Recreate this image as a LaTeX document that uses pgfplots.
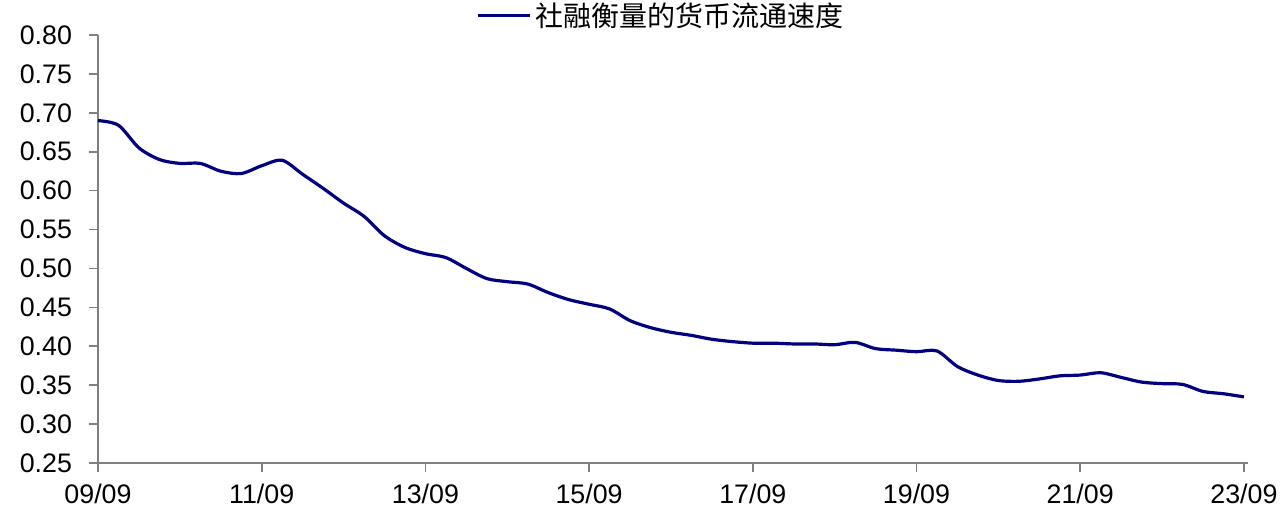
\documentclass[border=0pt]{standalone}
\usepackage{pgfplots}
\pgfplotsset{compat=1.18}
\usepackage{fontspec}
\setmainfont{Liberation Sans}
\newfontfamily\cjk{Noto Sans CJK SC}
\definecolor{navyline}{HTML}{000080}
\definecolor{axgray}{HTML}{808080}

% quarterly series, t = years since 2009-09
\pgfplotstableread{
t v
0.00 0.690
0.25 0.684
0.50 0.655
0.75 0.640
1.00 0.635
1.25 0.635
1.50 0.625
1.75 0.622
2.00 0.632
2.25 0.639
2.50 0.621
2.75 0.603
3.00 0.584
3.25 0.567
3.50 0.542
3.75 0.527
4.00 0.519
4.25 0.514
4.50 0.500
4.75 0.487
5.00 0.483
5.25 0.480
5.50 0.469
5.75 0.460
6.00 0.454
6.25 0.448
6.50 0.433
6.75 0.424
7.00 0.418
7.25 0.414
7.50 0.409
7.75 0.406
8.00 0.404
8.25 0.404
8.50 0.403
8.75 0.403
9.00 0.402
9.25 0.405
9.50 0.397
9.75 0.395
10.00 0.393
10.25 0.394
10.50 0.374
10.75 0.363
11.00 0.356
11.25 0.355
11.50 0.358
11.75 0.362
12.00 0.363
12.25 0.366
12.50 0.360
12.75 0.354
13.00 0.352
13.25 0.351
13.50 0.342
13.75 0.339
14.00 0.335
}\velocity

\begin{document}
\begin{tikzpicture}
\useasboundingbox (-49pt,-24pt) rectangle (593pt,231.5pt);
\begin{axis}[
  scale only axis,
  width=575pt, height=214pt,
  xmin=0, xmax=14.05,
  ymin=0.25, ymax=0.80,
  axis x line*=bottom, axis y line*=left,
  axis line style={axgray, line width=0.8pt, -},
  tick align=outside,
  major tick length=4.5pt,
  tick style={axgray, line width=0.8pt},
  xtick={0,2,...,14},
  xticklabels={09/09,11/09,13/09,15/09,17/09,19/09,21/09,23/09},
  ytick={0.25,0.30,...,0.80},
  y tick label style={/pgf/number format/fixed, /pgf/number format/fixed zerofill,
    /pgf/number format/precision=2, /pgf/number format/assume math mode=true},
  ticklabel style={font=\fontsize{13.4}{15}\selectfont},
  xticklabel style={yshift=-2.5pt},
  yticklabel style={xshift=-5pt},
  clip=false,
  legend style={draw=none, fill=none, at={(0.49,1.045)}, anchor=center,
    font=\cjk\fontsize{14}{16}\selectfont, inner sep=0pt},
  legend image code/.code={\draw[#1] (0pt,0pt) -- (26pt,0pt);},
]
\addplot[navyline, line width=1.6pt, smooth, tension=0.5] table[x=t, y=v] {\velocity};
\addlegendentry{社融衡量的货币流通速度}
\end{axis}
\end{tikzpicture}
\end{document}
